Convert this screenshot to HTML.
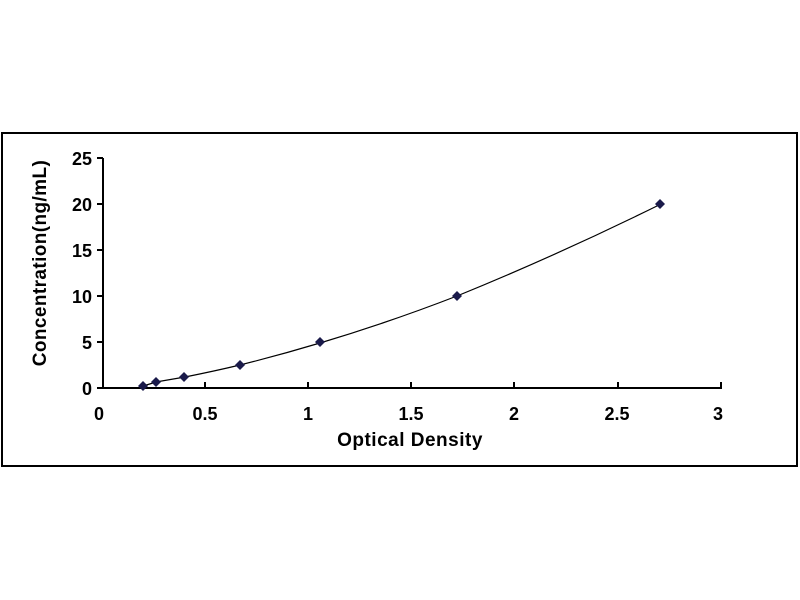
<!DOCTYPE html>
<html><head><meta charset="utf-8"><style>
html,body{margin:0;padding:0;background:#fff;width:800px;height:600px;overflow:hidden}
svg text{font-family:"Liberation Sans",Arial,sans-serif;font-weight:bold;fill:#000}
</style></head><body>
<svg width="800" height="600" xmlns="http://www.w3.org/2000/svg">
<rect x="2" y="133" width="795" height="333" fill="#fff" stroke="#000" stroke-width="2"/>
<g stroke="#000" stroke-width="2" fill="none">
<line x1="103" y1="158" x2="103" y2="389"/>
<line x1="102" y1="388" x2="722" y2="388"/>
<line x1="97" y1="158" x2="103" y2="158"/>
<line x1="97" y1="204" x2="103" y2="204"/>
<line x1="97" y1="250" x2="103" y2="250"/>
<line x1="97" y1="296" x2="103" y2="296"/>
<line x1="97" y1="342" x2="103" y2="342"/>
<line x1="97" y1="388" x2="103" y2="388"/>
<line x1="205" y1="382" x2="205" y2="388"/>
<line x1="308" y1="382" x2="308" y2="388"/>
<line x1="411" y1="382" x2="411" y2="388"/>
<line x1="514" y1="382" x2="514" y2="388"/>
<line x1="618" y1="382" x2="618" y2="388"/>
<line x1="721" y1="382" x2="721" y2="388"/>
</g>
<g font-size="18" text-anchor="end">
<text x="92" y="165">25</text><text x="92" y="211">20</text><text x="92" y="257">15</text>
<text x="92" y="303">10</text><text x="92" y="349">5</text><text x="92" y="395">0</text>
</g>
<g font-size="18" text-anchor="middle">
<text x="99" y="420">0</text><text x="205" y="420">0.5</text><text x="308" y="420">1</text>
<text x="411" y="420">1.5</text><text x="514" y="420">2</text><text x="617" y="420">2.5</text><text x="718" y="420">3</text>
</g>
<text x="410" y="446" font-size="19" letter-spacing="0.5" text-anchor="middle">Optical Density</text>
<text transform="translate(46,263) rotate(-90)" font-size="19" letter-spacing="0.4" text-anchor="middle">Concentration(ng/mL)</text>
<path d="M143,386 Q150,384 156,382 L185,377 Q215,371 240,365 Q280,355 320,343 Q390,322 457,296 Q560,254 661,204" fill="none" stroke="#000" stroke-width="1.2"/>
<g fill="#1a1a4a">
<path d="M143,381 l5,5 -5,5 -5,-5z"/>
<path d="M156,377 l5,5 -5,5 -5,-5z"/>
<path d="M184,372 l5,5 -5,5 -5,-5z"/>
<path d="M240,360 l5,5 -5,5 -5,-5z"/>
<path d="M320,337 l5,5 -5,5 -5,-5z"/>
<path d="M457,291 l5,5 -5,5 -5,-5z"/>
<path d="M660,199 l5,5 -5,5 -5,-5z"/>
</g>
</svg>
</body></html>
